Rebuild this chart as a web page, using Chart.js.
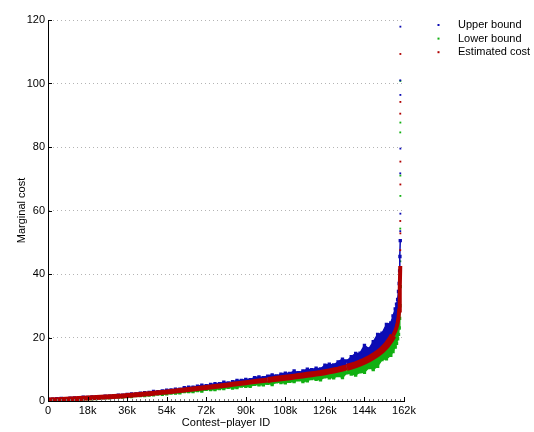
<!DOCTYPE html>
<html>
<head>
<meta charset="utf-8">
<script src="https://cdn.jsdelivr.net/npm/chart.js@4/dist/chart.umd.min.js"></script>
<style>
  html, body { margin: 0; padding: 0; background: #fff; }
  #wrap { width: 534px; height: 432px; }
</style>
</head>
<body>
<div id="wrap"><canvas id="costChart" width="534" height="432"></canvas></div>
<script>
// Contest-player IDs, in thousands (sorted by estimated cost)
const playerK = [0, 2, 4, 6, 8, 10, 12, 14, 16, 18, 20, 22, 24, 26, 28, 30, 32, 34, 36, 38,
  40, 42, 44, 46, 48, 50, 52, 54, 56, 58, 60, 62, 64, 66, 68, 70, 72, 74, 76, 78,
  80, 82, 84, 86, 88, 90, 92, 94, 96, 98, 100, 102, 104, 106, 108, 110, 112, 114, 116, 118,
  120, 122, 124, 126, 128, 130, 132, 134, 136, 138, 140, 142, 144, 146, 148, 150, 152, 154, 156,
  157, 158, 158.6, 159.1, 159.5, 159.8, 160.0, 160.15, 160.3];

const upperBound = [0.60, 0.57, 0.70, 0.79, 0.74, 0.86, 0.97, 0.99, 1.17, 1.11,
  1.25, 1.38, 1.40, 1.52, 1.52, 1.71, 1.82, 1.85, 2.04, 2.23,
  2.22, 2.45, 2.63, 2.67, 3.00, 2.92, 3.19, 3.45, 3.48, 3.73,
  3.74, 4.19, 4.34, 4.32, 4.66, 4.95, 4.82, 5.19, 5.44, 5.44,
  5.94, 5.69, 6.11, 6.49, 6.47, 6.82, 6.73, 7.38, 7.55, 7.38,
  7.85, 8.24, 7.92, 8.43, 8.79, 8.68, 9.44, 8.90, 9.48, 10.00,
  9.87, 10.34, 10.09, 11.25, 11.60, 11.34, 12.32, 13.18, 12.60, 13.94,
  14.99, 15.06, 17.49, 16.40, 18.65, 21.00, 21.33, 24.10, 24.60,
  26.8, 29.0, 30.5, 32.0, 34.5, 37.0, 41.0, 45.5, 50.5];

const lowerBound = [0.04, 0.07, 0.20, 0.16, 0.35, 0.35, 0.38, 0.52, 0.57, 0.72,
  0.69, 0.78, 0.95, 0.97, 1.01, 1.20, 1.22, 1.27, 1.42, 1.39,
  1.68, 1.69, 1.70, 1.90, 1.94, 2.20, 2.10, 2.23, 2.53, 2.52,
  2.55, 2.96, 2.93, 2.99, 3.29, 3.13, 3.68, 3.61, 3.57, 3.91,
  3.91, 4.33, 4.05, 4.23, 4.73, 4.61, 4.60, 5.23, 5.10, 5.12,
  5.56, 5.20, 6.02, 5.83, 5.70, 6.17, 6.10, 6.68, 6.15, 6.37,
  7.07, 6.80, 6.68, 7.62, 7.32, 7.30, 8.01, 7.38, 8.87, 8.50,
  8.18, 9.15, 9.03, 10.53, 9.92, 10.92, 13.04, 13.32, 14.40,
  15.6, 17.0, 18.2, 19.6, 21.0, 23.0, 26.0, 30.0, 36.0];

const estimatedCost = [0.30, 0.36, 0.42, 0.48, 0.54, 0.60, 0.68, 0.76, 0.84, 0.92,
  1.00, 1.08, 1.16, 1.24, 1.32, 1.40, 1.50, 1.60, 1.70, 1.82,
  1.94, 2.06, 2.18, 2.30, 2.44, 2.58, 2.72, 2.86, 3.00, 3.15,
  3.30, 3.46, 3.62, 3.78, 3.94, 4.10, 4.26, 4.42, 4.58, 4.74,
  4.90, 5.07, 5.25, 5.42, 5.60, 5.77, 5.95, 6.12, 6.30, 6.47,
  6.64, 6.81, 6.98, 7.15, 7.33, 7.50, 7.68, 7.86, 8.05, 8.24,
  8.43, 8.62, 8.81, 9.06, 9.32, 9.60, 9.90, 10.24, 10.60, 11.00,
  11.42, 11.95, 12.55, 13.25, 14.05, 15.00, 16.10, 17.50, 19.40,
  20.6, 22.0, 23.2, 24.6, 26.2, 28.5, 31.5, 35.5, 42.5];

// the few most expensive players, scattered above the curve
const upperTailK = [160.35, 160.3, 160.35, 160.35, 160.3, 160.35, 160.3];
const upperTail = [117.9, 101.0, 96.4, 79.5, 71.7, 59.0, 53.5];
const lowerTailK = [160.35, 160.35, 160.3, 160.35, 160.35, 160.3, 160.35];
const lowerTail = [100.8, 87.7, 84.6, 71.0, 64.6, 54.3, 44.0];
const estTailK = [160.35, 160.35, 160.3, 160.35, 160.35, 160.3, 160.35, 160.3];
const estTail = [109.3, 94.2, 90.5, 75.4, 68.2, 56.7, 52.8, 47.5];

const xTicks = [0, 18, 36, 54, 72, 90, 108, 126, 144, 162];
const yTicks = [0, 20, 40, 60, 80, 100, 120];

const BLUE = '#0c0cb4';
const GREEN = '#12b012';
const RED = '#b00000';
const FONT = '"Liberation Sans", Arial, Helvetica, sans-serif';

function pts(xs, ys) {
  return xs.map((x, i) => ({ x: x, y: ys[i] }));
}

// red band gets wider where the estimates get noisier
function redWidth(c) {
  const x = c.p0.parsed.x;
  if (x >= 157) return 4;
  if (x >= 136) return 7;
  if (x >= 100) return 6;
  return 5;
}

// inward tick marks, like the original axes
const axisTicks = {
  id: 'axisTicks',
  afterDatasetsDraw(chart) {
    const { ctx, chartArea: a, scales: { x, y } } = chart;
    ctx.save();
    ctx.lineWidth = 1;
    ctx.strokeStyle = '#777';
    ctx.beginPath();
    for (let v = 0; v <= 162; v += 2) {
      if (xTicks.includes(v)) continue;
      const px = Math.round(x.getPixelForValue(v)) + 0.5;
      ctx.moveTo(px, a.bottom);
      ctx.lineTo(px, a.bottom - 2);
    }
    ctx.stroke();
    ctx.strokeStyle = '#000';
    ctx.beginPath();
    xTicks.forEach(v => {
      const px = Math.round(x.getPixelForValue(v)) + 0.5;
      ctx.moveTo(px, a.bottom);
      ctx.lineTo(px, a.bottom - 4);
    });
    yTicks.forEach(v => {
      const py = Math.round(y.getPixelForValue(v)) + 0.5;
      ctx.moveTo(a.left, py);
      ctx.lineTo(a.left + 4, py);
    });
    ctx.stroke();
    ctx.restore();
  }
};

// legend to the right of the axes
const sideLegend = {
  id: 'sideLegend',
  afterDraw(chart) {
    const ctx = chart.ctx;
    ctx.save();
    ctx.font = '11px ' + FONT;
    ctx.textBaseline = 'middle';
    chart.data.datasets.slice(0, 3).forEach((ds, i) => {
      const yy = 25 + i * 13.6;
      ctx.fillStyle = ds.borderColor;
      ctx.fillRect(437.5, yy - 1, 2, 2);
      ctx.fillStyle = '#000';
      ctx.fillText(ds.label, 458, yy);
    });
    ctx.restore();
  }
};

const ctx = document.getElementById('costChart').getContext('2d');

new Chart(ctx, {
  type: 'line',
  data: {
    datasets: [
      {
        label: 'Upper bound',
        data: pts(playerK, upperBound),
        borderColor: BLUE,
        backgroundColor: BLUE,
        borderWidth: 1.5,
        pointRadius: 1.3,
        pointStyle: 'rect',
        fill: 2,
        order: 1
      },
      {
        label: 'Lower bound',
        data: pts(playerK, lowerBound),
        borderColor: GREEN,
        backgroundColor: GREEN,
        borderWidth: 1.5,
        pointRadius: 1.3,
        pointStyle: 'rect',
        fill: 2,
        order: 2
      },
      {
        label: 'Estimated cost',
        data: pts(playerK, estimatedCost),
        borderColor: RED,
        backgroundColor: RED,
        borderWidth: 5,
        segment: { borderWidth: redWidth },
        pointRadius: 0,
        fill: false,
        order: 0
      },
      {
        label: 'upper tail',
        data: pts(upperTailK, upperTail),
        borderColor: BLUE,
        backgroundColor: BLUE,
        showLine: false,
        pointRadius: 1.3,
        pointStyle: 'rect',
        order: 1
      },
      {
        label: 'lower tail',
        data: pts(lowerTailK, lowerTail),
        borderColor: GREEN,
        backgroundColor: GREEN,
        showLine: false,
        pointRadius: 1.3,
        pointStyle: 'rect',
        order: 2
      },
      {
        label: 'estimated tail',
        data: pts(estTailK, estTail),
        borderColor: RED,
        backgroundColor: RED,
        showLine: false,
        pointRadius: 1.3,
        pointStyle: 'rect',
        order: 0
      }
    ]
  },
  options: {
    responsive: false,
    animation: false,
    events: [],
    layout: { padding: { top: 20, right: 130, left: 0, bottom: 0 } },
    elements: { line: { tension: 0 }, point: { borderWidth: 0 } },
    plugins: {
      legend: { display: false },
      tooltip: { enabled: false }
    },
    scales: {
      x: {
        type: 'linear',
        min: 0,
        max: 162,
        afterBuildTicks: s => { s.ticks = xTicks.map(v => ({ value: v })); },
        afterFit: s => { s.height = 31; },
        ticks: {
          autoSkip: false,
          maxRotation: 0,
          padding: 3,
          color: '#000',
          font: { family: FONT, size: 11 },
          callback: v => (v === 0 ? '0' : v + 'k')
        },
        grid: { display: false, drawTicks: false },
        border: { display: true, color: '#000', width: 1 },
        title: {
          display: true,
          text: 'Contest\u2212player ID',
          color: '#000',
          font: { family: FONT, size: 11 },
          padding: { top: 0, bottom: 2 }
        }
      },
      y: {
        min: 0,
        max: 120,
        afterBuildTicks: s => { s.ticks = yTicks.map(v => ({ value: v })); },
        afterFit: s => { s.width = 48; },
        ticks: {
          padding: 3,
          color: '#000',
          font: { family: FONT, size: 11 }
        },
        grid: {
          color: '#b4b4b4',
          lineWidth: 1,
          drawTicks: false
        },
        border: { display: true, color: '#000', width: 1, dash: [1, 3] },
        title: {
          display: true,
          text: 'Marginal cost',
          color: '#000',
          font: { family: FONT, size: 11 },
          padding: { top: 15, bottom: 0 }
        }
      }
    }
  },
  plugins: [axisTicks, sideLegend]
});
</script>
</body>
</html>
